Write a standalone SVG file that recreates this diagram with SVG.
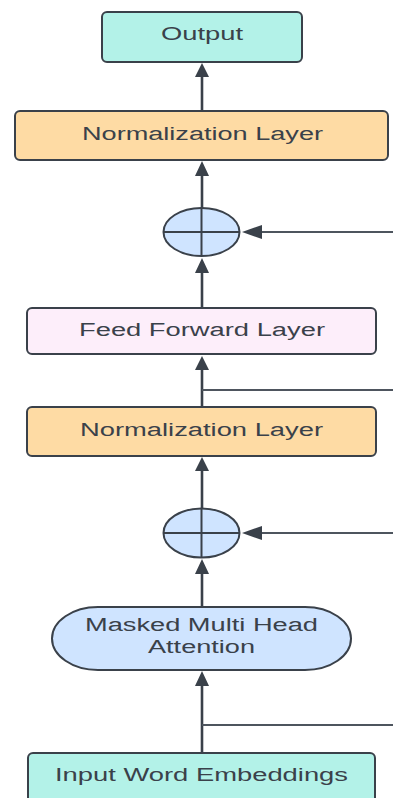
<svg xmlns="http://www.w3.org/2000/svg" width="393" height="798" viewBox="0 0 393 798">
  <style>
    .box { stroke: #3a414a; stroke-width: 2; }
    .lbl { font-family: "Liberation Sans", Arial, sans-serif; font-size: 18px; fill: #3a414a; text-anchor: middle; }
    .flow { stroke: #3a414a; stroke-width: 2.6; fill: none; }
    .branch { stroke: #4e555e; stroke-width: 1.8; fill: none; }
    .head { fill: #3a414a; }
    .plus { stroke: #3a414a; stroke-width: 2; fill: #cfe4ff; }
    .cross { stroke: #3a414a; stroke-width: 2; fill: none; }
  </style>

  <rect width="393" height="798" fill="#ffffff"/>

  <!-- connectors -->
  <g id="connectors">
    <!-- main upward flow -->
    <path class="flow" d="M202,752 V685"/>
    <path class="head" d="M195,686 L202,671 L209,686 Z"/>
    <path class="flow" d="M202,607 V573"/>
    <path class="head" d="M195,574 L202,559 L209,574 Z"/>
    <path class="flow" d="M202,509 V470"/>
    <path class="head" d="M195,471 L202,457 L209,471 Z"/>
    <path class="flow" d="M202,406 V369"/>
    <path class="head" d="M195,370 L202,356 L209,370 Z"/>
    <path class="flow" d="M202,308 V272"/>
    <path class="head" d="M195,273 L202,258 L209,273 Z"/>
    <path class="flow" d="M202,208 V175"/>
    <path class="head" d="M195,176 L202,161 L209,176 Z"/>
    <path class="flow" d="M202,110 V76"/>
    <path class="head" d="M195,77 L202,63 L209,77 Z"/>

    <!-- residual branches leaving to the right -->
    <path class="branch" d="M202,725 H393"/>
    <path class="branch" d="M202,390 H393"/>

    <!-- residual inputs into the adders -->
    <path class="branch" d="M393,533 H262"/>
    <path class="head" d="M262,526 L242,533 L262,540 Z"/>
    <path class="branch" d="M393,232 H262"/>
    <path class="head" d="M262,225 L242,232 L262,239 Z"/>
  </g>

  <!-- nodes -->
  <g id="output">
    <rect class="box" x="102" y="12" width="200" height="50" rx="5" fill="#b3f2e8"/>
    <text class="lbl" x="202" y="40" textLength="82" lengthAdjust="spacingAndGlyphs">Output</text>
  </g>

  <g id="norm-top">
    <rect class="box" x="15" y="111" width="373" height="49" rx="5" fill="#fedba4"/>
    <text class="lbl" x="202.5" y="139.5" textLength="241" lengthAdjust="spacingAndGlyphs">Normalization Layer</text>
  </g>

  <g id="add-top">
    <ellipse class="plus" cx="201.5" cy="232" rx="38" ry="24"/>
    <path class="cross" d="M163.5,232 H239.5 M201.5,208 V256"/>
  </g>

  <g id="feed-forward">
    <rect class="box" x="27" y="308" width="349" height="46" rx="5" fill="#fdeefa"/>
    <text class="lbl" x="202" y="336" textLength="246" lengthAdjust="spacingAndGlyphs">Feed Forward Layer</text>
  </g>

  <g id="norm-bottom">
    <rect class="box" x="27" y="407" width="349" height="49" rx="5" fill="#fedba4"/>
    <text class="lbl" x="201.5" y="435.5" textLength="243" lengthAdjust="spacingAndGlyphs">Normalization Layer</text>
  </g>

  <g id="add-bottom">
    <ellipse class="plus" cx="201.5" cy="533" rx="38" ry="24.5"/>
    <path class="cross" d="M163.5,533 H239.5 M201.5,508.5 V557.5"/>
  </g>

  <g id="masked-attention">
    <path class="box" d="M98,607 H305 A46,31.5 0 0 1 305,670 H98 A46,31.5 0 0 1 98,607 Z" fill="#cfe4ff"/>
    <text class="lbl" x="201.5" y="631" textLength="233" lengthAdjust="spacingAndGlyphs">Masked Multi Head</text>
    <text class="lbl" x="201.5" y="652.5" textLength="107" lengthAdjust="spacingAndGlyphs">Attention</text>
  </g>

  <g id="input-embeddings">
    <rect class="box" x="28" y="753" width="347" height="60" rx="5" fill="#b3f2e8"/>
    <text class="lbl" x="201.5" y="781" textLength="293" lengthAdjust="spacingAndGlyphs">Input Word Embeddings</text>
  </g>
</svg>
